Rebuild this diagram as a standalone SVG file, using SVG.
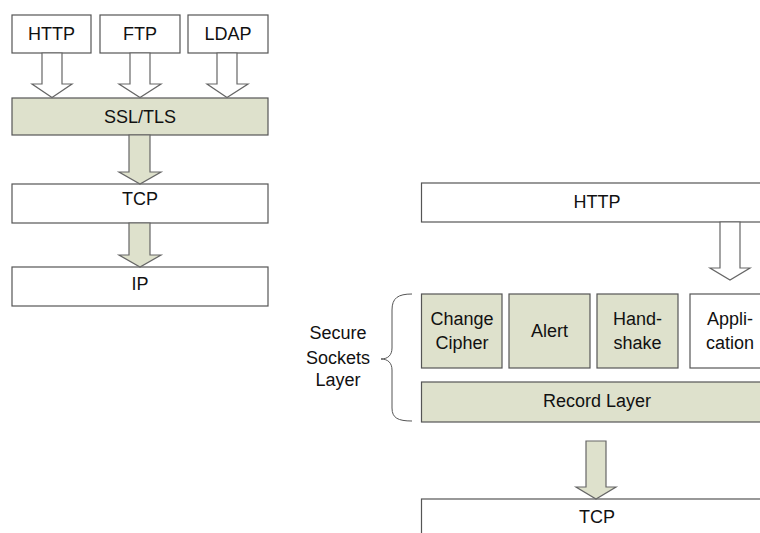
<svg xmlns="http://www.w3.org/2000/svg" width="760" height="533" viewBox="0 0 760 533">
<style>
.box{fill:#ffffff;stroke:#555;stroke-width:1.2}
.g{fill:#dee1cc;stroke:#555;stroke-width:1.2}
.aw{fill:#ffffff;stroke:#666;stroke-width:1.2}
.ag{fill:#dee1cc;stroke:#666;stroke-width:1.2}
text{font-family:"Liberation Sans",Arial,sans-serif;font-size:18px;fill:#111;text-anchor:middle}
</style>
<rect width="760" height="533" fill="#ffffff"/>
<g id="left-http"><rect class="box" x="12" y="15" width="79" height="38"/><text x="51.5" y="40">HTTP</text></g>
<g id="left-ftp"><rect class="box" x="100" y="15" width="80" height="38"/><text x="140" y="40">FTP</text></g>
<g id="left-ldap"><rect class="box" x="188" y="15" width="80" height="38"/><text x="228" y="40">LDAP</text></g>
<g id="left-ssl"><rect class="g" x="12" y="98" width="256" height="37"/><text x="140" y="123">SSL/TLS</text></g>
<g id="left-tcp"><rect class="box" x="12" y="184" width="256" height="39"/><text x="140" y="205">TCP</text></g>
<g id="left-ip"><rect class="box" x="12" y="267" width="256" height="39"/><text x="140" y="290">IP</text></g>
<g id="right-http"><rect class="box" x="421.5" y="183" width="360" height="39"/><text x="597" y="208">HTTP</text></g>
<g id="right-change"><rect class="g" x="421.5" y="294" width="80.5" height="74"/><text x="462" y="325">Change</text><text x="462" y="349">Cipher</text></g>
<g id="right-alert"><rect class="g" x="509" y="294" width="81" height="74"/><text x="549.5" y="337">Alert</text></g>
<g id="right-handshake"><rect class="g" x="597" y="294" width="81" height="74"/><text x="637.5" y="325">Hand-</text><text x="637.5" y="349">shake</text></g>
<g id="right-application"><rect class="box" x="690" y="294" width="80" height="74"/><text x="730" y="325">Appli-</text><text x="730" y="349">cation</text></g>
<g id="right-record"><rect class="g" x="421.5" y="382" width="360" height="40"/><text x="597" y="407">Record Layer</text></g>
<g id="right-tcp"><rect class="box" x="421.5" y="499" width="360" height="60"/><text x="597" y="523">TCP</text></g>
<g id="ssl-label"><text x="338" y="339">Secure</text><text x="338" y="364">Sockets</text><text x="338" y="386">Layer</text>
<path d="M412,294 C398,294 392,298 392,310 L392,348 C392,355 388,359 381,359 C388,359 392,363 392,370 L392,408 C392,418 398,421 412,421" fill="none" stroke="#555" stroke-width="1"/></g>
<g id="connectors">
<polygon class="aw" points="42,53 62,53 62,84 72,84 52,97.5 32,84 42,84"/>
<polygon class="aw" points="130,53 150,53 150,84 161,84 140,97.5 119,84 130,84"/>
<polygon class="aw" points="217,53 237,53 237,84 248,84 227,97.5 207,84 217,84"/>
<polygon class="ag" points="129,135 150,135 150,172 161,172 140,184 119,172 129,172"/>
<polygon class="ag" points="129,223 150,223 150,255 161,255 140,267 119,255 129,255"/>
<polygon class="aw" points="720,222 740,222 740,268 750,268 730,280 710,268 720,268"/>
<polygon class="ag" points="586,441 606,441 606,487 616,487 596,499 576,487 586,487"/>
</g>
</svg>
